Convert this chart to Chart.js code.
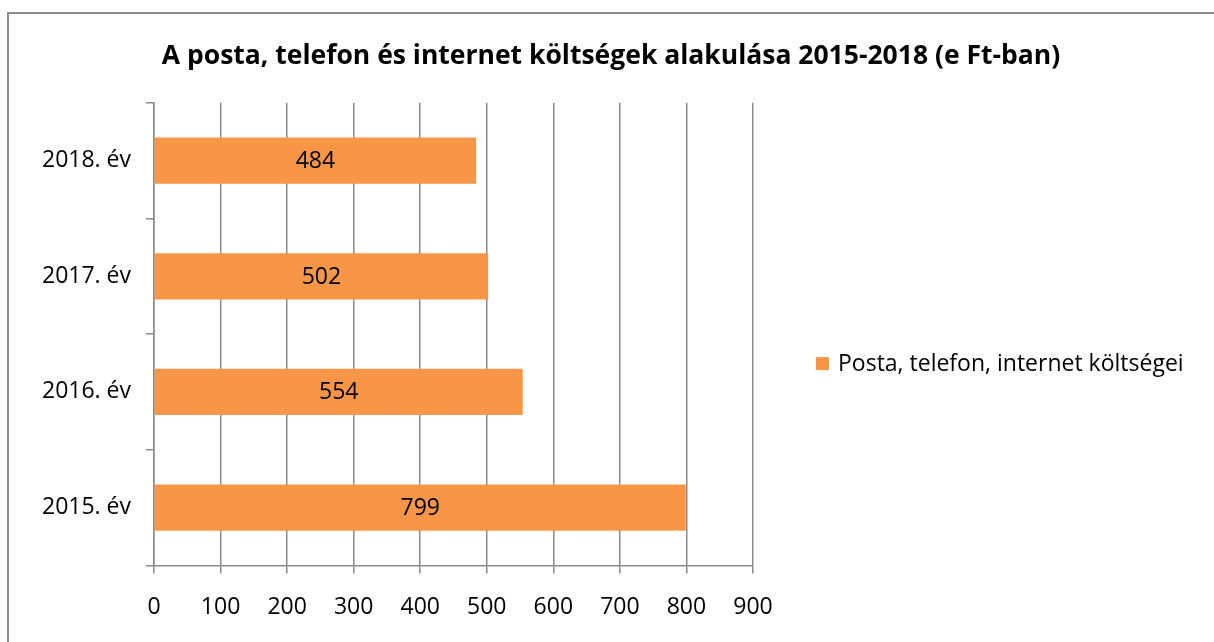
<!DOCTYPE html>
<html>
<head>
<meta charset="utf-8">
<title>Posta, telefon, internet</title>
<script src="https://cdn.jsdelivr.net/npm/chart.js@4.4.1/dist/chart.umd.min.js"></script>
<style>
  html, body { margin: 0; padding: 0; background: #fff; }
  #wrap { position: relative; width: 1214px; height: 642px; overflow: hidden; }
  #frame {
    position: absolute; left: 7px; top: 12px; right: -10px; bottom: -10px;
    border-left: 2px solid #8c8c8c; border-top: 2px solid #8c8c8c;
    pointer-events: none;
  }
</style>
</head>
<body>
<div id="wrap">
  <canvas id="chart" width="1214" height="642"></canvas>
  <div id="frame"></div>
</div>
<script>
const chartTitle = "A posta, telefon és internet költségek alakulása 2015-2018 (e Ft-ban)";
const seriesName = "Posta, telefon, internet költségei";
const categories = ["2015. év", "2016. év", "2017. év", "2018. év"];
const values = [799, 554, 502, 484];
const xTicks = [0, 100, 200, 300, 400, 500, 600, 700, 800, 900];

const barColor = "#F79646";
const lineColor = "#8a8a8a";
const fontFamily = "'Open Sans', 'Noto Sans', sans-serif";
const textSize = 23;

Chart.defaults.font.family = fontFamily;
Chart.defaults.font.size = textSize;
Chart.defaults.color = "#000";

// value written in the middle of each bar
const barLabels = {
    id: "barLabels",
    afterDatasetsDraw(chart) {
        const ctx = chart.ctx;
        ctx.save();
        ctx.font = textSize + "px " + fontFamily;
        ctx.fillStyle = "#000";
        ctx.textAlign = "center";
        ctx.textBaseline = "middle";
        chart.getDatasetMeta(0).data.forEach((bar, i) => {
            const v = chart.data.datasets[0].data[i];
            ctx.fillText(String(v), (bar.base + bar.x) / 2, bar.y + 1);
        });
        ctx.restore();
    }
};

// legend on the right side, like in excel
const sideLegend = {
    id: "sideLegend",
    afterDraw(chart) {
        const ctx = chart.ctx;
        const area = chart.chartArea;
        const ds = chart.data.datasets[0];
        const x = area.right + 63;
        const y = (area.top + area.bottom) / 2 + 30;
        ctx.save();
        ctx.fillStyle = ds.backgroundColor;
        ctx.fillRect(x, y - 7, 13, 13);
        ctx.font = textSize + "px " + fontFamily;
        ctx.fillStyle = "#000";
        ctx.textAlign = "left";
        ctx.textBaseline = "middle";
        ctx.fillText(ds.label, x + 22, y);
        ctx.restore();
    }
};

new Chart(document.getElementById("chart"), {
    type: "bar",
    data: {
        labels: categories,
        datasets: [
            {
                label: seriesName,
                data: values,
                backgroundColor: barColor,
                barPercentage: 0.4,
                categoryPercentage: 1,
                xAxisID: "x",
                yAxisID: "y",
            },
        ],
    },
    options: {
        indexAxis: "y",
        responsive: false,
        animation: false,
        events: [],
        layout: {
            padding: { left: 8, right: 0, top: 0, bottom: 1 },
        },
        plugins: {
            legend: { display: false },
            tooltip: { enabled: false },
            title: {
                display: true,
                text: chartTitle,
                color: "#000",
                font: { size: 26.5, weight: "bold" },
                padding: { top: 41, bottom: 30 },
            },
        },
        scales: {
            x: {
                min: xTicks[0],
                max: xTicks[xTicks.length - 1],
                ticks: { stepSize: xTicks[1] - xTicks[0], padding: 20, color: "#000" },
                grid: { color: lineColor, lineWidth: 1.5, tickLength: 8 },
                border: { color: lineColor, width: 1.5 },
            },
            y: {
                reverse: true,
                ticks: { padding: 15, color: "#000" },
                grid: { offset: true, drawOnChartArea: false, color: lineColor, lineWidth: 1.5, tickLength: 8 },
                border: { color: lineColor, width: 1.5 },
                afterFit: (scale) => { scale.width = 146; },
            },
            // empty axis, only keeps room for the legend
            legendSpace: {
                axis: "y",
                type: "linear",
                position: "right",
                grid: { display: false, drawTicks: false },
                border: { display: false },
                ticks: { display: false },
                afterFit: (scale) => { scale.width = 461; },
            },
        },
    },
    plugins: [barLabels, sideLegend],
});
</script>
</body>
</html>
